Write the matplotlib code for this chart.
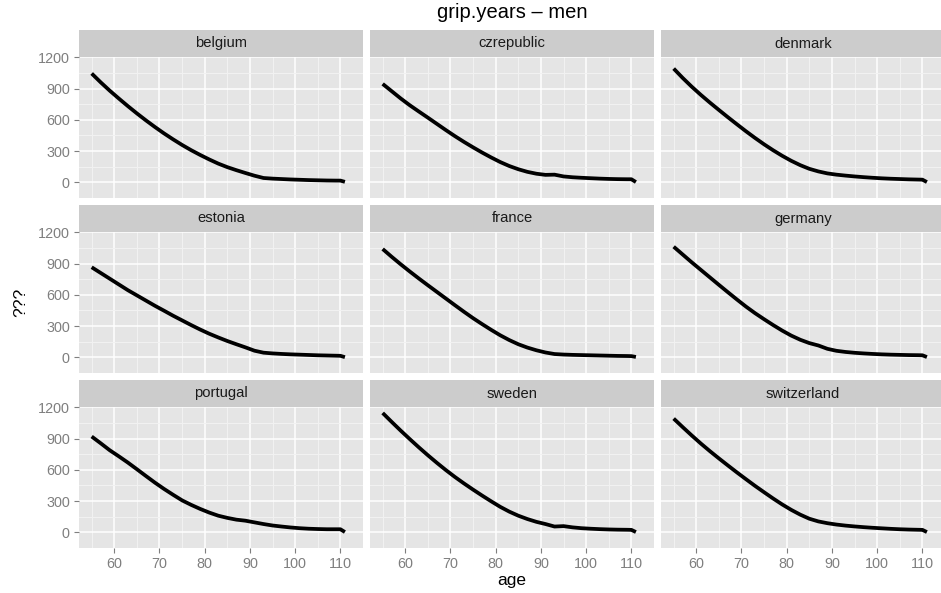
import matplotlib
matplotlib.use("Agg")
import matplotlib.pyplot as plt

plt.rcParams['font.family'] = ['Liberation Sans', 'DejaVu Sans']

# ---------------- data ----------------
ages = [55, 57, 59, 61, 63, 65, 67, 69, 71, 73, 75, 77, 79, 81, 83, 85, 87, 89,
        91, 93, 95, 97, 99, 101, 103, 105, 107, 109, 110, 111]

countries = ["belgium", "czrepublic", "denmark",
             "estonia", "france", "germany",
             "portugal", "sweden", "switzerland"]

belgium = [1045, 960, 880, 805, 732, 662, 595, 531, 470, 413, 359, 309, 263, 220,
           180, 146, 117, 90, 64, 42, 36, 32, 28, 25, 22, 20, 18, 17, 17, 5]
czrepublic = [945, 875, 805, 740, 680, 621, 561, 501, 443, 388, 336, 286, 239, 195,
              157, 126, 101, 83, 72, 74, 57, 49, 44, 40, 36, 33, 31, 30, 30, 3]
denmark = [1092, 1002, 918, 840, 766, 695, 625, 557, 490, 426, 365, 308, 255, 207,
           165, 130, 105, 86, 74, 65, 57, 50, 44, 39, 35, 32, 29, 27, 26, 3]
estonia = [865, 810, 755, 700, 645, 595, 545, 495, 448, 400, 355, 310, 267, 227,
           191, 157, 126, 96, 64, 45, 38, 33, 29, 26, 23, 20, 18, 16, 15, 2]
france = [1040, 965, 893, 824, 757, 692, 628, 564, 500, 437, 376, 319, 264, 212,
          166, 126, 94, 68, 47, 32, 27, 24, 22, 20, 18, 16, 14, 13, 12, 4]
germany = [1062, 987, 912, 840, 768, 696, 625, 555, 487, 424, 366, 310, 257, 209,
           169, 137, 114, 82, 63, 52, 44, 38, 33, 29, 26, 24, 22, 21, 20, 3]
portugal = [920, 855, 788, 730, 670, 606, 541, 477, 417, 361, 307, 264, 225, 190,
            160, 139, 122, 112, 96, 80, 66, 56, 47, 40, 35, 32, 30, 30, 30, 3]
sweden = [1146, 1060, 976, 895, 816, 740, 667, 597, 531, 469, 410, 353, 298, 245,
          199, 160, 128, 101, 80, 56, 60, 48, 40, 35, 31, 28, 26, 25, 24, 3]
switzerland = [1092, 1010, 930, 853, 780, 710, 642, 575, 510, 446, 385, 325, 268, 216,
               170, 131, 105, 88, 75, 65, 57, 50, 44, 39, 34, 30, 27, 25, 24, 3]

series = [belgium, czrepublic, denmark, estonia, france, germany,
          portugal, sweden, switzerland]

x_major = [60, 70, 80, 90, 100, 110]
x_minor = [55, 65, 75, 85, 95, 105, 115]
y_major = [0, 300, 600, 900, 1200]
y_minor = [-150, 150, 450, 750, 1050]

title = "grip.years \u2013 men"
xlabel = "age"
ylabel = "???"

# ---------------- layout ----------------
W, H = 941, 593
fig = plt.figure(figsize=(W / 100, H / 100), dpi=100)
fig.patch.set_facecolor("white")

lefts = [79, 370, 661]
tops = [57, 232, 407]
pw, ph = 284, 141
sh = 27

allv = [v for s in series for v in s]
ymin, ymax = min(allv), max(allv)
ypad = 0.05 * (ymax - ymin)
xmin, xmax = min(ages), max(ages)
xpad = 0.05 * (xmax - xmin)

tick_col = "#7F7F7F"

for i, (name, vals) in enumerate(zip(countries, series)):
    r, c = divmod(i, 3)
    left, top = lefts[c], tops[r]
    ax = fig.add_axes([left / W, 1 - (top + ph) / H, pw / W, ph / H])
    ax.set_facecolor("#E5E5E5")
    ax.set_xlim(xmin - xpad, xmax + xpad)
    ax.set_ylim(ymin - ypad, ymax + ypad)
    ax.set_xticks(x_major)
    ax.set_xticks(x_minor, minor=True)
    ax.set_yticks(y_major)
    ax.set_yticks(y_minor, minor=True)
    ax.grid(which="minor", color="#F2F2F2", lw=0.7)
    ax.grid(which="major", color="white", lw=1.1)
    ax.set_axisbelow(True)
    for s in ax.spines.values():
        s.set_visible(False)
    ax.plot(ages, vals, color="black", lw=2.7, solid_joinstyle="round",
            solid_capstyle="butt")
    ax.tick_params(which="minor", length=0)
    ax.tick_params(axis="both", which="major", colors=tick_col, labelcolor=tick_col,
                   labelsize=10.4, length=3.6, width=0.8, pad=3.0)
    if c != 0:
        ax.tick_params(axis="y", which="major", left=False, labelleft=False)
    if r != 2:
        ax.tick_params(axis="x", which="major", bottom=False, labelbottom=False)
    # strip
    sax = fig.add_axes([left / W, 1 - top / H, pw / W, sh / H])
    sax.set_facecolor("#CCCCCC")
    sax.set_xticks([])
    sax.set_yticks([])
    for s in sax.spines.values():
        s.set_visible(False)
    sax.text(0.5, 0.5, name, ha="center", va="center", fontsize=10.6,
             color="#1A1A1A", transform=sax.transAxes)

cx = (lefts[0] + lefts[2] + pw) / 2
fig.text(cx / W, 1 - 12 / H, title, ha="center", va="center", fontsize=14.5,
         color="black")
fig.text(cx / W, 1 - 581 / H, xlabel, ha="center", va="center", fontsize=12.5,
         color="black")
fig.text(21 / W, 1 - 302 / H, ylabel, ha="center", va="center", fontsize=12.5,
         color="black", rotation=90)

fig.savefig("out.png", dpi=100, facecolor="white")
